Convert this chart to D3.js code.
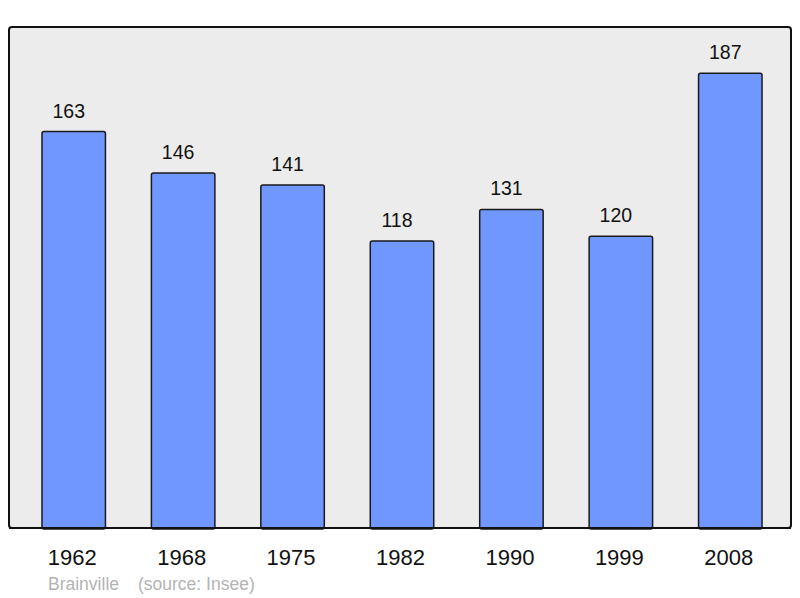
<!DOCTYPE html>
<html>
<head>
<meta charset="utf-8">
<script src="https://cdn.jsdelivr.net/npm/d3@7"></script>
<style>
  body { margin: 0; background: #fff; }
</style>
</head>
<body>
<div id="chart"></div>
<script>
const years = ["1962", "1968", "1975", "1982", "1990", "1999", "2008"];
const population = [163, 146, 141, 118, 131, 120, 187];
const townName = "Brainville";
const sourceLabel = "(source: Insee)";

const data = years.map((y, i) => ({ year: y, value: population[i] }));

const width = 800;
const height = 598;
const frame = { left: 9, top: 27, right: 791, bottom: 528 };

const svg = d3.select("#chart")
    .append("svg")
    .attr("width", width)
    .attr("height", height)
    .style("font-family", "'Liberation Sans', Arial, sans-serif");

const xScale = d3.scaleBand()
    .domain(years)
    .range([19, 785])
    .paddingInner(0.42)
    .paddingOuter(0.21);

const yScale = d3.scaleLinear()
    .domain([0, 206])
    .range([frame.bottom, frame.top]);

// plot background
svg.append("rect")
    .attr("x", frame.left)
    .attr("y", frame.top)
    .attr("width", frame.right - frame.left)
    .attr("height", frame.bottom - frame.top)
    .attr("rx", 3)
    .attr("fill", "#ececec")
    .attr("stroke", "#111")
    .attr("stroke-width", 2);

svg.selectAll(".bar")
    .data(data)
    .enter()
    .append("rect")
    .attr("class", "bar")
    .attr("x", d => xScale(d.year))
    .attr("y", d => yScale(d.value))
    .attr("width", xScale.bandwidth())
    .attr("height", d => yScale(0) - yScale(d.value) + 1)
    .attr("rx", 2)
    .attr("fill", "#7097ff")
    .attr("stroke", "#1a1a1a")
    .attr("stroke-width", 1.5);

// redraw bottom edge of frame over bars
svg.append("line")
    .attr("x1", frame.left)
    .attr("x2", frame.right)
    .attr("y1", frame.bottom)
    .attr("y2", frame.bottom)
    .attr("stroke", "#111")
    .attr("stroke-width", 2);

// value labels sit a bit left of the bar centre
svg.selectAll(".label")
    .data(data)
    .enter()
    .append("text")
    .attr("class", "label")
    .attr("x", d => xScale(d.year) + xScale.bandwidth() / 2 - 5)
    .attr("y", d => yScale(d.value) - 14)
    .attr("text-anchor", "middle")
    .attr("font-size", "19.5px")
    .attr("fill", "#111")
    .text(d => d.value);

const xAxis = svg.append("g")
    .attr("transform", `translate(-1.5,${frame.bottom})`)
    .call(d3.axisBottom(xScale).tickSize(0).tickPadding(0));

xAxis.select(".domain").remove();
xAxis.selectAll("text")
    .attr("dy", null)
    .attr("y", 37)
    .attr("font-size", "22px")
    .attr("font-family", "'Liberation Sans', Arial, sans-serif")
    .attr("fill", "#111");

svg.append("text")
    .attr("x", 48)
    .attr("y", 590)
    .attr("font-size", "17.5px")
    .attr("fill", "#b3b3b3")
    .text(townName);

svg.append("text")
    .attr("x", 138)
    .attr("y", 590)
    .attr("font-size", "17.5px")
    .attr("fill", "#b3b3b3")
    .text(sourceLabel);
</script>
</body>
</html>
